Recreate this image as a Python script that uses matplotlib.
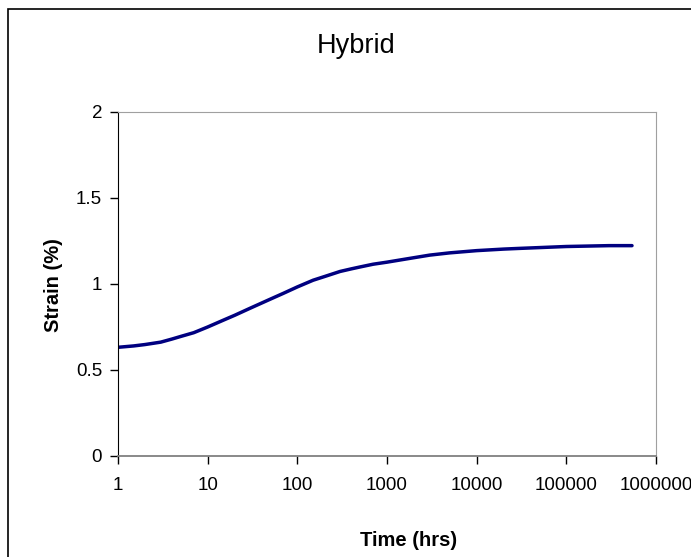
import matplotlib
matplotlib.use("Agg")
import matplotlib.pyplot as plt
import matplotlib.patches as patches
from matplotlib.ticker import FixedLocator, NullLocator

plt.rcParams["font.family"] = ["Liberation Sans", "DejaVu Sans"]

# values
time_hrs = [1, 1.5, 2, 3, 4, 5, 7, 10, 15, 20, 30, 50, 70, 100, 150, 200, 300,
            400, 500, 700, 1000, 2000, 3000, 5000, 10000, 20000, 30000,
            100000, 300000, 540000]
strain = [0.632, 0.64, 0.648, 0.662, 0.68, 0.695, 0.717, 0.75, 0.79, 0.818,
          0.86, 0.912, 0.946, 0.983, 1.022, 1.043, 1.073, 1.088, 1.099, 1.115,
          1.127, 1.153, 1.168, 1.181, 1.194, 1.203, 1.207, 1.218, 1.223, 1.223]

x_ticks = [1, 10, 100, 1000, 10000, 100000, 1000000]
y_ticks = [0, 0.5, 1, 1.5, 2]

W, H = 691, 557
fig = plt.figure(figsize=(W / 100, H / 100), dpi=100)
ax = fig.add_axes([118 / W, 1 - 456 / H, (656 - 118) / W, (456 - 112) / H])

ax.plot(time_hrs, strain, color="#000080", linewidth=2.5,
        solid_capstyle="round", solid_joinstyle="round")

ax.set_xscale("log")
ax.set_xlim(1, 1000000)
ax.set_ylim(0, 2)
ax.xaxis.set_major_locator(FixedLocator(x_ticks))
ax.xaxis.set_minor_locator(NullLocator())
ax.set_xticklabels([str(t) for t in x_ticks])
ax.set_yticks(y_ticks)
ax.set_yticklabels(["0", "0.5", "1", "1.5", "2"])
ax.tick_params(direction="out", length=6, width=1, labelsize=13.5, colors="black")
ax.tick_params(axis="y", pad=5.5)
ax.tick_params(axis="x", pad=9)

ax.spines["left"].set_color("black")
ax.spines["bottom"].set_color("#808080")
ax.spines["bottom"].set_linewidth(1.3)
ax.spines["top"].set_color("#a0a0a0")
ax.spines["right"].set_color("#a0a0a0")

fig.text(409 / W, 1 - 540 / H, "Time (hrs)", fontsize=14.5, fontweight="bold",
         ha="center", va="center")
fig.text(54 / W, 1 - 285 / H, "Strain (%)", fontsize=14.5, fontweight="bold",
         ha="center", va="center", rotation=90)
fig.text(356 / W, 1 - 53 / H, "Hybrid", fontsize=19.5, ha="center", va="baseline")

border = patches.Rectangle((8 / W, -0.1), 1.2, 1 - 9 / H + 0.1, transform=fig.transFigure,
                           fill=False, edgecolor="black", linewidth=1.2)
fig.patches.append(border)

fig.savefig("out.png", dpi=100)
